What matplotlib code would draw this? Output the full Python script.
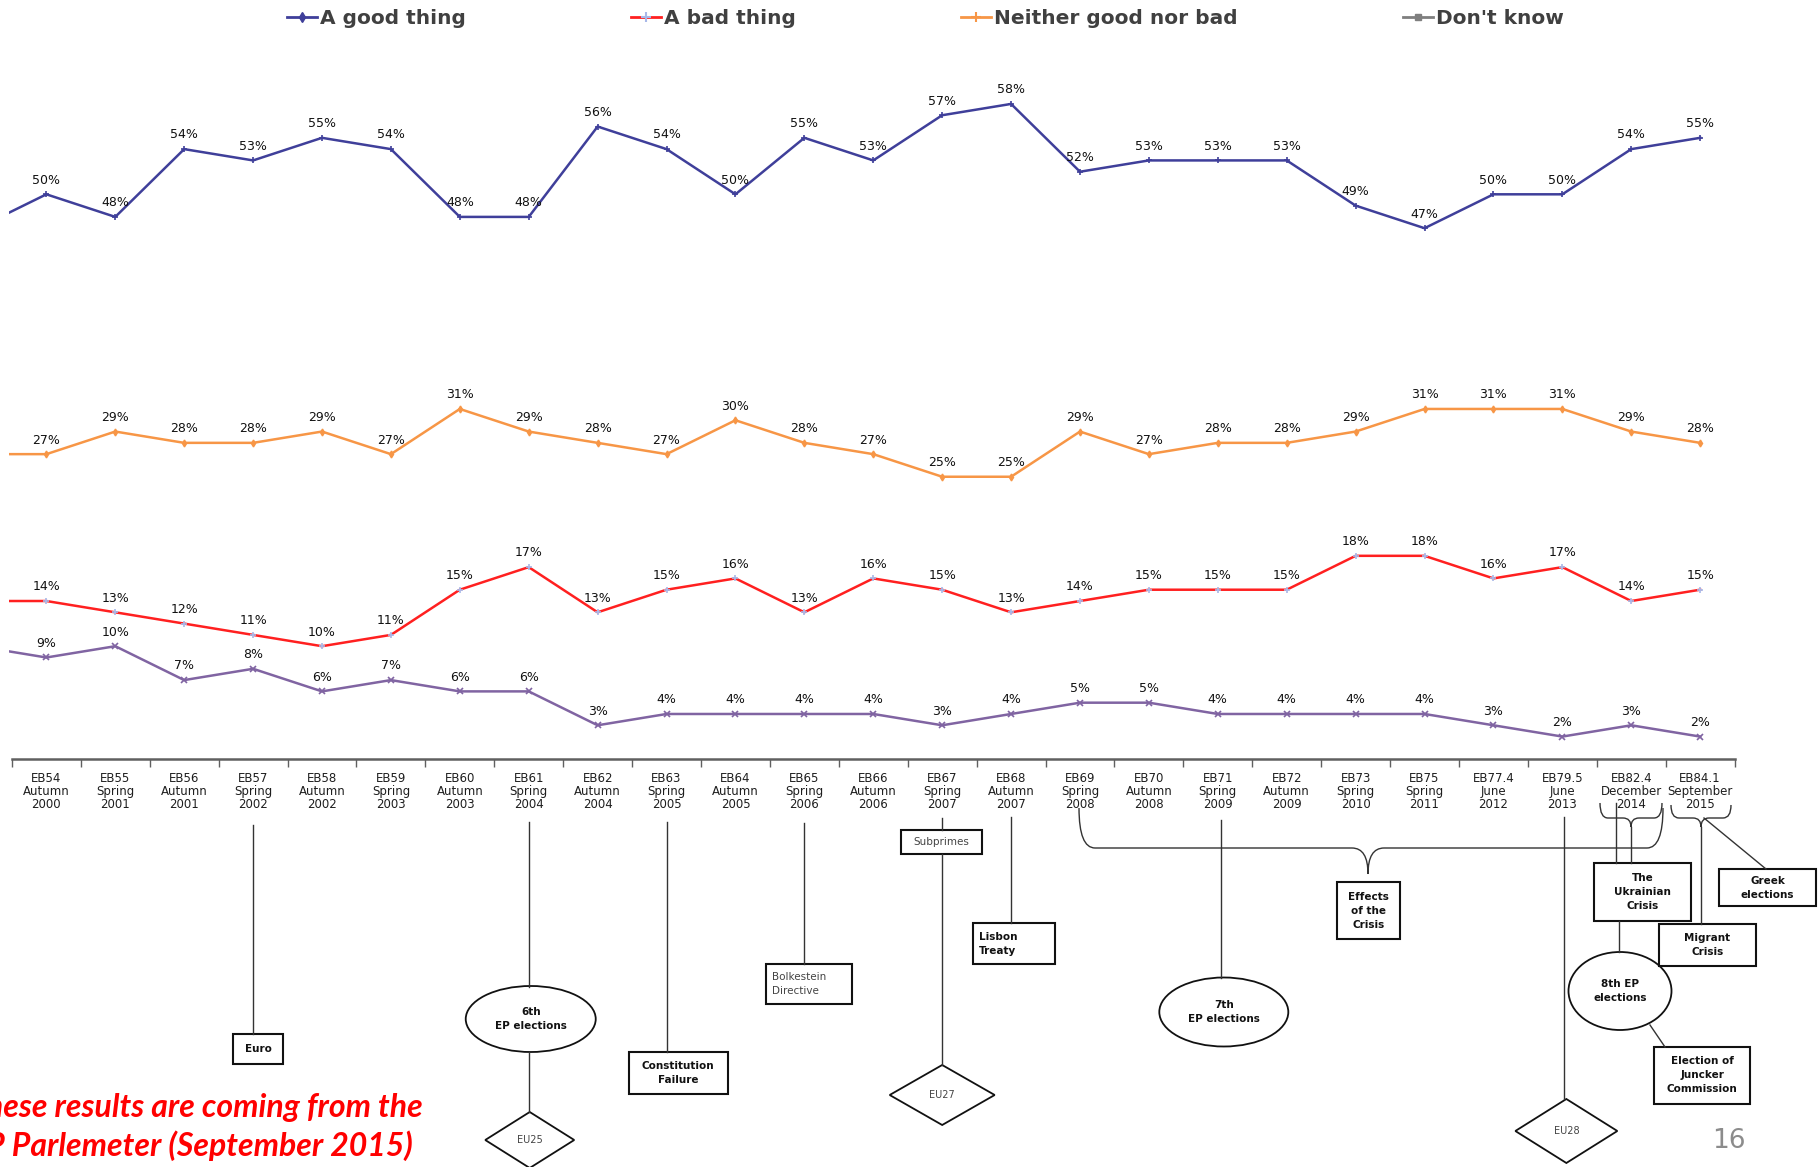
import matplotlib
matplotlib.use("Agg")
import matplotlib.pyplot as plt
import numpy as np
from matplotlib.lines import Line2D
from matplotlib.patches import Rectangle, Ellipse, Polygon, PathPatch
from matplotlib.path import Path

# waves of the Eurobarometer / Parlemeter
waves = ["EB54\nAutumn\n2000", "EB55\nSpring\n2001", "EB56\nAutumn\n2001", "EB57\nSpring\n2002",
         "EB58\nAutumn\n2002", "EB59\nSpring\n2003", "EB60\nAutumn\n2003", "EB61\nSpring\n2004",
         "EB62\nAutumn\n2004", "EB63\nSpring\n2005", "EB64\nAutumn\n2005", "EB65\nSpring\n2006",
         "EB66\nAutumn\n2006", "EB67\nSpring\n2007", "EB68\nAutumn\n2007", "EB69\nSpring\n2008",
         "EB70\nAutumn\n2008", "EB71\nSpring\n2009", "EB72\nAutumn\n2009", "EB73\nSpring\n2010",
         "EB75\nSpring\n2011", "EB77.4\nJune\n2012", "EB79.5\nJune\n2013", "EB82.4\nDecember\n2014",
         "EB84.1\nSeptember\n2015"]

good = [50, 48, 54, 53, 55, 54, 48, 48, 56, 54, 50, 55, 53, 57, 58, 52, 53, 53, 53, 49, 47, 50, 50, 54, 55]
bad = [14, 13, 12, 11, 10, 11, 15, 17, 13, 15, 16, 13, 16, 15, 13, 14, 15, 15, 15, 18, 18, 16, 17, 14, 15]
neither = [27, 29, 28, 28, 29, 27, 31, 29, 28, 27, 30, 28, 27, 25, 25, 29, 27, 28, 28, 29, 31, 31, 31, 29, 28]
dontknow = [9, 10, 7, 8, 6, 7, 6, 6, 3, 4, 4, 4, 4, 3, 4, 5, 5, 4, 4, 4, 4, 3, 2, 3, 2]

# earlier wave, only its tail is visible at the left edge
good_prev, bad_prev, neither_prev, dontknow_prev = 47, 14, 27, 10

c_good = "#3f3f9a"
c_bad = "#ff2020"
c_nei = "#f79646"
c_dk = "#8064a2"

W, H = 1818, 1167
fig = plt.figure(figsize=(W / 100, H / 100), dpi=100)
left = 9.3 / W
ax = fig.add_axes([left, 0, 1 - left, 1])
n = len(waves)
ax.set_xlim(-0.538, 25.71)
ax.set_ylim(-36.1, 67.2)

xs = np.arange(-1, n)
ax.plot(xs, np.r_[good_prev, good], color=c_good, lw=1.8, marker="+", ms=5, mew=1.2)
ax.plot(xs, np.r_[neither_prev, neither], color=c_nei, lw=1.8, marker="d", ms=3.5)
ax.plot(xs, np.r_[bad_prev, bad], color=c_bad, lw=1.8, marker="+", ms=5, mec="#a8b8e8", mew=1.2)
ax.plot(xs, np.r_[dontknow_prev, dontknow], color=c_dk, lw=1.8, marker="x", ms=5, mew=1.2)

for series in (good, neither, bad, dontknow):
    for i, v in enumerate(series):
        ax.annotate(f"{v}%", (i, v), xytext=(0, 5.5), textcoords="offset points",
                    ha="center", va="bottom", fontsize=9, color="#111111")

for s in ["top", "left", "right"]:
    ax.spines[s].set_visible(False)
ax.spines["bottom"].set_position(("data", 0))
ax.spines["bottom"].set_bounds(-0.5, n - 0.5)
ax.spines["bottom"].set_color("#606060")
ax.spines["bottom"].set_linewidth(1.8)
ax.set_yticks([])
ax.set_xticks(range(n))
ax.set_xticklabels(waves, fontsize=8.5, color="#1e1e1e", linespacing=1.0)
ax.tick_params(axis="x", which="major", length=0, pad=9)
ax.set_xticks(np.arange(n + 1) - 0.5, minor=True)
ax.tick_params(axis="x", which="minor", length=6, width=1, color="#606060", direction="out")
ax.patch.set_alpha(0)

handles = [
    Line2D([], [], color=c_good, lw=2, marker="d", ms=5),
    Line2D([], [], color=c_bad, lw=2, marker="+", ms=7, mec="#a8b8e8", mew=1.5),
    Line2D([], [], color=c_nei, lw=2, marker="+", ms=7, mew=1.5),
    Line2D([], [], color="#7f7f7f", lw=2, marker="s", ms=5),
]
fig.legend(handles, ["A good thing", "A bad thing", "Neither good nor bad", "Don't know"],
           loc="center", bbox_to_anchor=(0.509, 0.984), ncol=4, frameon=False,
           prop={"size": 14.5, "weight": "bold"},
           handlelength=1.5, handletextpad=0.15, columnspacing=8.2, labelcolor="#404040")

# timeline of events under the axis, drawn in pixel space
ov = fig.add_axes([0, 0, 1, 1])
ov.set_xlim(0, W)
ov.set_ylim(H, 0)
ov.axis("off")
ov.patch.set_alpha(0)


def cx(i):
    return ax.transData.transform((i, 0))[0]


lc = "#333333"


def vline(x, y0, y1):
    ov.plot([x, x], [y0, y1], color=lc, lw=1)


def box(x0, x1, y0, y1, txt, bold=True, ha="center"):
    ov.add_patch(Rectangle((x0, y0), x1 - x0, y1 - y0, fill=False, ec="#111111", lw=1.5))
    tx = (x0 + x1) / 2 if ha == "center" else x0 + 6
    ov.text(tx, (y0 + y1) / 2, txt, ha=ha, va="center", fontsize=7.5,
            fontweight="bold" if bold else "normal", color="#111111" if bold else "#444444",
            linespacing=1.5)


def ellipse(x, y, w, h, txt):
    ov.add_patch(Ellipse((x, y), w, h, fill=False, ec="#111111", lw=1.3))
    ov.text(x, y, txt, ha="center", va="center", fontsize=7.5, fontweight="bold",
            color="#111111", linespacing=1.5)


def diamond(x, y, hw, hh, txt):
    ov.add_patch(Polygon([(x, y - hh), (x + hw, y), (x, y + hh), (x - hw, y)], closed=True,
                         fill=False, ec="#111111", lw=1.3))
    ov.text(x, y, txt, ha="center", va="center", fontsize=7, color="#444444")


def brace(xl, xr, ytop, yh, tipx, ytip, r=16):
    verts = [(xl, ytop), (xl, yh), (xl + r, yh), (tipx - r, yh), (tipx, yh), (tipx, ytip),
             (tipx, yh), (tipx + r, yh), (xr - r, yh), (xr, yh), (xr, ytop)]
    codes = [Path.MOVETO, Path.CURVE3, Path.CURVE3, Path.LINETO, Path.CURVE3, Path.CURVE3,
             Path.CURVE3, Path.CURVE3, Path.LINETO, Path.CURVE3, Path.CURVE3]
    ov.add_patch(PathPatch(Path(verts, codes), fill=False, ec=lc, lw=1))


# Euro
x = cx(3)
vline(x, 825, 1034)
box(x - 20, x + 30, 1034, 1064, "Euro")
# 6th EP elections, EU25
x = cx(7)
vline(x, 822, 987)
ellipse(x + 2, 1019, 130, 66, "6th\nEP elections")
vline(x, 1052, 1112)
diamond(x + 1, 1140, 44.5, 28, "EU25")
# Constitution failure
x = cx(9)
vline(x, 822, 1052)
box(x - 38, x + 61, 1052, 1094, "Constitution\nFailure")
# Bolkestein
x = cx(11)
vline(x, 823, 964)
box(x - 38, x + 48, 964, 1004, "Bolkestein\nDirective", bold=False, ha="left")
# Subprimes, EU27
x = cx(13)
vline(x, 818, 830)
box(x - 41, x + 40, 830, 854, "Subprimes", bold=False)
vline(x, 854, 1065)
diamond(x, 1095, 52.5, 30, "EU27")
# Lisbon
x = cx(14)
vline(x, 817, 923)
box(x - 38, x + 44, 923, 964, "Lisbon\nTreaty", ha="left")
# 7th EP elections
x = cx(17)
vline(x + 3, 820, 978)
ellipse(x + 6, 1012, 129, 69, "7th\nEP elections")
# effects of the crisis
brace(1079, 1663, 808, 848, 1368, 874)
box(1337, 1400, 882, 939, "Effects\nof the\nCrisis")
# EU28
x = cx(22)
vline(x + 2, 817, 1099)
diamond(x + 4, 1131, 51, 32, "EU28")
# Ukrainian crisis, 8th EP elections, Juncker
brace(1600, 1662, 803, 818, 1631, 827, r=8)
vline(1616, 803, 863)
vline(1631, 827, 863)
box(1594, 1691, 863, 921, "The\nUkrainian\nCrisis")
vline(1619, 921, 952)
ellipse(1620, 991, 103, 78, "8th EP\nelections")
ov.plot([1650, 1665], [1025, 1047], color=lc, lw=1)
box(1654, 1750, 1047, 1104, "Election of\nJuncker\nCommission")
# Migrant crisis, Greek elections
brace(1671, 1731, 805, 818, 1701, 827, r=8)
vline(1701, 827, 924)
box(1659, 1756, 924, 966, "Migrant\nCrisis")
ov.plot([1704, 1766], [818, 869], color=lc, lw=1)
box(1719, 1816, 869, 906, "Greek\nelections")

# source note, cut at the left edge as on the slide
ov.text(423, 1108, "These results are coming from the", ha="right", va="center", color="red",
        fontsize=23, fontweight="bold", fontstyle="italic", family=["Lato", "DejaVu Sans"])
ov.text(413, 1146, "EP Parlemeter (September 2015)", ha="right", va="center", color="red",
        fontsize=23, fontweight="bold", fontstyle="italic", family=["Lato", "DejaVu Sans"])
ov.text(1729, 1141, "16", ha="center", va="center", color="#8c8c8c", fontsize=19)

fig.savefig("out.png", dpi=100)
